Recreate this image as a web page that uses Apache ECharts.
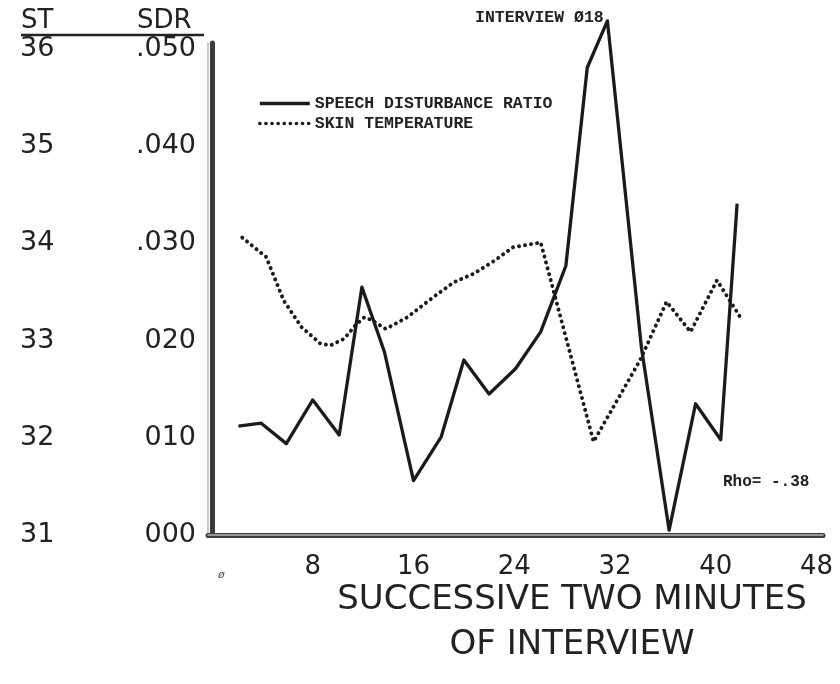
<!DOCTYPE html>
<html>
<head>
<meta charset="utf-8">
<script src="https://cdn.jsdelivr.net/npm/echarts@6/dist/echarts.min.js"></script>
<style>html,body{margin:0;padding:0;background:#fff;}#c{width:840px;height:684px;}</style>
</head>
<body>
<div id="c"></div>
<script>
// ---- data ----
const xTickValues = [8, 16, 24, 32, 40, 48];
const sdrTickValues = [0, 0.01, 0.02, 0.03, 0.04, 0.05];
const sdrTickLabels = ['000', '010', '020', '.030', '.040', '.050'];
const stTickValues = [31, 32, 33, 34, 35, 36];

const sdrX = [2.1, 3.9, 5.9, 8.0, 10.1, 11.9, 13.7, 16.0, 18.2, 20.0, 22.0, 24.1, 26.1, 28.1, 29.8, 31.4, 34.1, 36.3, 38.4, 40.4, 41.7];
const sdrY = [0.0112, 0.0115, 0.0094, 0.0139, 0.0103, 0.0255, 0.0188, 0.0056, 0.0101, 0.0180, 0.0145, 0.0171, 0.0209, 0.0277, 0.0481, 0.0529, 0.0193, 0.0005, 0.0135, 0.0098, 0.0341];

const stX = [2.4, 4.3, 5.7, 7.1, 8.6, 9.4, 10.5, 11.4, 12.1, 12.7, 13.8, 15.5, 17.6, 19.2, 20.8, 22.4, 23.9, 26.1, 30.3, 34.0, 36.1, 38.0, 40.1, 42.1];
const stY = [34.06, 33.86, 33.41, 33.14, 32.97, 32.95, 33.02, 33.16, 33.24, 33.21, 33.12, 33.24, 33.45, 33.60, 33.69, 33.82, 33.96, 34.01, 31.96, 32.80, 33.40, 33.09, 33.62, 33.21];

const seriesNames = ['SPEECH DISTURBANCE RATIO', 'SKIN TEMPERATURE'];
const annotation = 'INTERVIEW \u00D818';
const rhoText = 'Rho= -.38';
const xTitle = 'SUCCESSIVE TWO MINUTES\nOF INTERVIEW';

// ---- chart ----
const ink = '#1b1b1b';
const letterFont = 'DejaVu Sans';
const typeFont = 'Liberation Mono';
const xMin = -0.32, xMax = 48.52;
const sdrMax = 0.05062, stMax = 36.062;

const sdrData = sdrX.map((x, i) => [x, sdrY[i]]);
const stData = stX.map((x, i) => [x, stY[i]]);

const chart = echarts.init(document.getElementById('c'), null, {renderer: 'canvas'});
chart.setOption({
  backgroundColor: '#ffffff',
  animation: false,
  grid: {left: 208, right: 17, top: 43, bottom: 149, containLabel: false},
  xAxis: [
    {
      type: 'value', min: xMin, max: xMax, position: 'bottom',
      axisLine: {show: true, lineStyle: {color: '#3c3c3c', width: 5}},
      axisTick: {show: false}, splitLine: {show: false},
      axisLabel: {customValues: xTickValues, fontFamily: letterFont, fontSize: 26, color: '#222', margin: 19}
    },
    {
      type: 'value', min: xMin, max: xMax, position: 'bottom',
      axisLine: {show: true, lineStyle: {color: '#b8b8b8', width: 1.5}},
      axisTick: {show: false}, splitLine: {show: false}, axisLabel: {show: false}
    }
  ],
  yAxis: [
    {
      type: 'value', min: 0, max: sdrMax, position: 'left',
      axisLine: {show: true, lineStyle: {color: '#3c3c3c', width: 5}},
      axisTick: {show: false}, splitLine: {show: false},
      axisLabel: {
        customValues: sdrTickValues, fontFamily: letterFont, fontSize: 27, color: '#222', margin: 12,
        formatter: v => { const i = sdrTickValues.findIndex(t => Math.abs(t - v) < 1e-9); return i >= 0 ? sdrTickLabels[i] : ''; }
      }
    },
    {
      type: 'value', min: 31, max: stMax, position: 'left',
      axisLine: {show: false}, axisTick: {show: false}, splitLine: {show: false},
      axisLabel: {customValues: stTickValues, fontFamily: letterFont, fontSize: 27, color: '#222', margin: 188, align: 'left'}
    },
    {
      type: 'value', min: 0, max: sdrMax, position: 'left',
      axisLine: {show: true, lineStyle: {color: '#b8b8b8', width: 1.5}},
      axisTick: {show: false}, splitLine: {show: false}, axisLabel: {show: false}
    }
  ],
  legend: {
    data: seriesNames, orient: 'vertical', left: 253, top: 90,
    itemWidth: 50, itemHeight: 12, itemGap: 3,
    itemStyle: {opacity: 0},
    lineStyle: {width: 3.6},
    textStyle: {fontFamily: typeFont, fontWeight: 'bold', fontSize: 16.5, color: '#222'}
  },
  series: [
    {
      name: seriesNames[0], type: 'line', xAxisIndex: 0, yAxisIndex: 0,
      data: sdrData, symbol: 'none', clip: false, z: 5,
      itemStyle: {color: ink},
      lineStyle: {color: ink, width: 3.3, join: 'round'}
    },
    {
      name: seriesNames[1], type: 'line', xAxisIndex: 0, yAxisIndex: 1,
      data: stData, symbol: 'none', clip: false, z: 4,
      itemStyle: {color: ink},
      lineStyle: {color: ink, width: 3.9, type: [0.1, 6.0], cap: 'round'}
    }
  ],
  graphic: [
    {type: 'text', left: 21, top: 8, style: {text: 'ST', font: '26px "DejaVu Sans"', fill: '#222'}},
    {type: 'text', left: 137, top: 8, style: {text: 'SDR', font: '26px "DejaVu Sans"', fill: '#222'}},
    {type: 'line', shape: {x1: 21, y1: 35, x2: 204, y2: 35}, style: {stroke: '#222', lineWidth: 2.5}},
    {type: 'text', left: 475, top: 9, style: {text: annotation, font: 'bold 16.5px "Liberation Mono"', fill: '#222'}},
    {type: 'text', left: 723, top: 474, style: {text: rhoText, font: 'bold 16px "Liberation Mono"', fill: '#222'}},
    {type: 'text', left: 218, top: 570, style: {text: '\u00F8', font: 'italic 11px "DejaVu Sans"', fill: '#555'}},
    {type: 'text', x: 572, y: 578, style: {text: xTitle, font: '34px "DejaVu Sans"', fill: '#222', align: 'center', lineHeight: 45}}
  ]
});
</script>
</body>
</html>
